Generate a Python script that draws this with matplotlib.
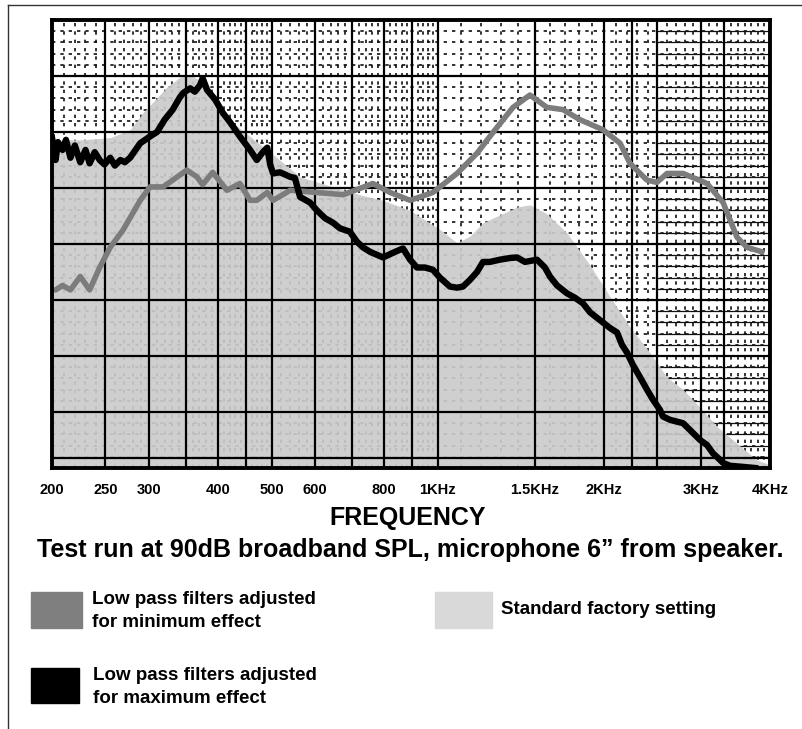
import numpy as np
import matplotlib
matplotlib.use('Agg')
import matplotlib.pyplot as plt
from matplotlib.patches import Rectangle
from matplotlib.lines import Line2D

plt.rcParams['font.family'] = ['Liberation Sans', 'DejaVu Sans']

# x axis labels
tick_freqs = [200, 250, 300, 400, 500, 600, 800, 1000, 1500, 2000, 3000, 4000]
tick_labels = ['200', '250', '300', '400', '500', '600', '800', '1KHz',
               '1.5KHz', '2KHz', '3KHz', '4KHz']

# standard factory setting (filled area)
factory_f = [200, 225, 255, 277, 292, 323, 341, 356, 371, 395, 426, 457, 491,
             529, 563, 646, 723, 796, 891, 1009, 1084, 1144, 1208, 1296, 1392,
             1469, 1577, 1714, 1888, 2052, 2230, 2424, 2603, 2783, 2988, 3207,
             3486, 3790, 4000]
factory_db = [29.3, 29.3, 29.5, 30.2, 31.7, 34.0, 34.9, 35.1, 34.6, 32.9, 30.8,
              29.6, 28.4, 27.1, 26.0, 25.1, 24.4, 23.9, 23.0, 21.3, 20.1, 20.7,
              21.9, 22.6, 23.3, 23.5, 22.7, 21.0, 18.1, 15.3, 12.6, 10.3, 8.1,
              7.0, 5.4, 3.7, 2.2, 0.7, 0.3]

# low pass filters adjusted for minimum effect (gray line)
min_f = [203, 209, 216, 225, 234, 244, 255, 269, 289, 301, 318, 331, 351, 366,
         375, 391, 415, 438, 457, 470, 491, 503, 524, 540, 604, 674, 763, 820,
         891, 980, 1084, 1178, 1243, 1280, 1369, 1469, 1577, 1686, 1810, 1993,
         2140, 2230, 2394, 2496, 2603, 2783, 3076, 3289, 3486, 3634, 3870]
min_db = [15.9, 16.3, 15.9, 17.1, 15.9, 17.9, 19.7, 21.25, 23.9, 25.1, 25.1,
          25.7, 26.6, 26.0, 25.3, 26.4, 24.8, 25.4, 23.9, 23.9, 24.6, 23.9, 24.4,
          24.8, 24.6, 24.4, 25.4, 24.6, 23.9, 24.6, 26.3, 28.1, 29.6, 30.4, 32.2,
          33.3, 32.2, 32.0, 31.1, 30.2, 29.0, 27.2, 25.7, 25.5, 26.3, 26.3, 25.4,
          23.7, 20.6, 19.7, 19.3]

# low pass filters adjusted for maximum effect (black line)
max_f = [200, 203, 205, 209, 212, 216, 220, 225, 230, 234, 239, 244, 249, 255,
         260, 266, 271, 277, 289, 301, 310, 320, 331, 341, 346, 356, 363, 371,
         375, 382, 395, 408, 420, 438, 457, 470, 482, 491, 497, 503, 518, 540,
         551, 563, 587, 604, 625, 646, 665, 693, 714, 732, 754, 796, 837, 865,
         891, 917, 948, 980, 1009, 1052, 1084, 1111, 1144, 1178, 1208, 1243,
         1296, 1352, 1392, 1439, 1513, 1564, 1597, 1645, 1714, 1773, 1833, 1888,
         1968, 2052, 2113, 2157, 2203, 2258, 2326, 2394, 2455, 2527, 2559, 2636,
         2783, 2864, 2988, 3076, 3154, 3220, 3289, 3386, 3574, 3758]
max_db = [29.5, 27.5, 29.1, 28.4, 29.3, 27.7, 28.8, 27.3, 28.4, 27.2, 28.2,
          27.5, 27.1, 27.7, 27.0, 27.5, 27.3, 27.7, 29.0, 29.6, 30.0, 31.1, 32.0,
          33.1, 33.5, 33.9, 33.6, 34.2, 34.8, 33.75, 32.9, 31.7, 30.9, 29.6, 28.4,
          27.5, 28.2, 28.6, 27.1, 26.3, 26.4, 26.0, 25.9, 24.2, 23.7, 23.0, 22.3,
          21.9, 21.4, 21.1, 20.2, 19.7, 19.3, 18.8, 19.3, 19.6, 18.6, 17.9, 17.9,
          17.7, 17.0, 16.2, 16.1, 16.2, 16.8, 17.5, 18.4, 18.4, 18.6, 18.75, 18.8,
          18.4, 18.6, 17.9, 17.1, 16.3, 15.6, 15.2, 14.7, 13.9, 13.2, 12.5, 12.1,
          11.0, 10.3, 9.2, 8.1, 7.0, 6.1, 5.2, 4.6, 4.3, 4.0, 3.4, 2.5, 2.05, 1.3,
          0.9, 0.45, 0.2, 0.1, 0.0]

fig = plt.figure(figsize=(8.02, 7.29), dpi=100)
ax = fig.add_axes([52 / 802, 1 - 468 / 729, 718 / 802, 448 / 729])
ax.set_xscale('log')
ax.set_xlim(200, 4000)
ax.set_ylim(0, 40)

# graph paper: dotted minor lines
minor_v = list(range(210, 500, 10)) + list(range(520, 1000, 20)) + list(range(1100, 4000, 100))
for f in minor_v:
    ax.axvline(f, color='#111111', lw=1.2, ls=(0, (2, 3)), zorder=1)
for y in range(1, 40):
    if y % 5:
        ax.axhline(y, color='#111111', lw=1.2, ls=(0, (2, 3)), zorder=1)
        ax.hlines(y, 2500, 4000, color='#111111', lw=0.9, zorder=1)

# factory setting area
ax.fill_between(factory_f, factory_db, 0, color='#cbcbcb', alpha=0.92, lw=0, zorder=2)

# graph paper: heavy lines
major_v = [250, 300, 350, 400, 450, 500, 600, 700, 800, 900, 1000, 1500, 2000,
           2250, 2500, 3000, 3300]
for f in major_v:
    ax.axvline(f, color='black', lw=1.6, zorder=3)
for y in [0.9, 5, 10, 15, 20, 25, 30, 35]:
    ax.axhline(y, color='black', lw=1.6, zorder=3)

ax.plot(min_f, min_db, color='#7c7c7c', lw=4.0, solid_capstyle='round', zorder=4)
ax.plot(max_f, max_db, color='black', lw=4.6, zorder=5)

for s in ax.spines.values():
    s.set_linewidth(2.8)
    s.set_zorder(6)
ax.set_yticks([])
ax.set_xticks(tick_freqs)
ax.set_xticklabels(tick_labels, fontsize=10.5, fontweight='bold')
ax.minorticks_off()
ax.tick_params(axis='x', length=0, pad=11)

# frame around the figure
fig.add_artist(Line2D([8 / 802, 8 / 802], [0, 1 - 5 / 729], color='#333333', lw=1))
fig.add_artist(Line2D([8 / 802, 1], [1 - 5 / 729, 1 - 5 / 729], color='#333333', lw=1))

fig.text(408 / 802, 1 - 518 / 729, 'FREQUENCY', ha='center', va='center',
         fontsize=18, fontweight='bold')
fig.text(410 / 802, 1 - 550 / 729,
         'Test run at 90dB broadband SPL, microphone 6\u201d from speaker.',
         ha='center', va='center', fontsize=18, fontweight='bold')

# legend
fig.patches.append(Rectangle((31 / 802, 1 - 628 / 729), 51 / 802, 36 / 729,
                             transform=fig.transFigure, color='#7f7f7f'))
fig.text(92 / 802, 1 - 611 / 729, 'Low pass filters adjusted\nfor minimum effect',
         ha='left', va='center', fontsize=13.5, fontweight='bold', linespacing=1.45)
fig.patches.append(Rectangle((435 / 802, 1 - 628 / 729), 57 / 802, 36 / 729,
                             transform=fig.transFigure, color='#d9d9d9'))
fig.text(501 / 802, 1 - 610 / 729, 'Standard factory setting',
         ha='left', va='center', fontsize=13.5, fontweight='bold')
fig.patches.append(Rectangle((31 / 802, 1 - 703 / 729), 48 / 802, 35 / 729,
                             transform=fig.transFigure, color='black'))
fig.text(93 / 802, 1 - 687 / 729, 'Low pass filters adjusted\nfor maximum effect',
         ha='left', va='center', fontsize=13.5, fontweight='bold', linespacing=1.45)

fig.savefig('out.png', dpi=100)
